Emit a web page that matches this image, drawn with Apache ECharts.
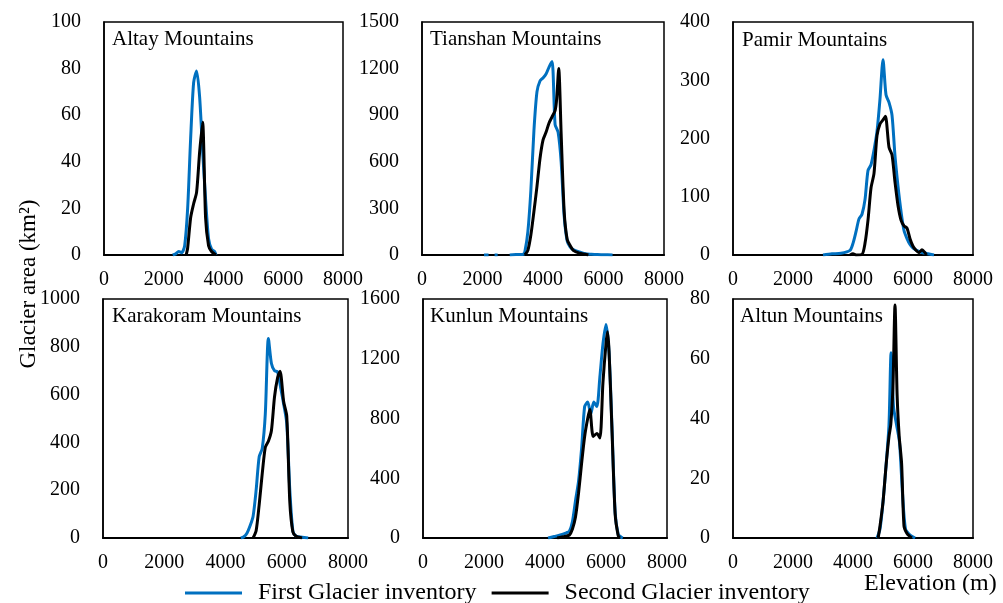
<!DOCTYPE html>
<html><head><meta charset="utf-8">
<script src="https://cdn.jsdelivr.net/npm/echarts@6/dist/echarts.min.js"></script>
<style>html,body{margin:0;padding:0;background:#fff}#c{width:1003px;height:603px}</style>
</head><body><div id="c"></div>
<script>
// ---- data: [elevation (m), glacier area (km²)] ----
const panelNames = ['Altay Mountains','Tianshan Mountains','Pamir Mountains','Karakoram Mountains','Kunlun Mountains','Altun Mountains'];
const seriesNames = ['First Glacier inventory','Second Glacier inventory'];
const xTicks = [0,2000,4000,6000,8000];
const yMax = [100,1500,400,1000,1600,80];
const yStep = [20,300,100,200,400,20];

const altayFirst = [[2300,0],[2400,0.5],[2500,1.5],[2600,1],[2700,4],[2800,20],[2900,50],[3000,74],[3100,79],[3200,68],[3300,45],[3400,24],[3500,7],[3600,2.5],[3700,1.5],[3750,0]];
const altaySecond = [[2750,0],[2800,3],[2900,16],[3000,22],[3100,27],[3200,44],[3300,57],[3400,16],[3500,4],[3600,1.5],[3700,0.5],[3750,0]];

const tianshanFirst = [[2050,0],[2200,0],[2300,'-'],[2400,0],[2500,0],[2700,'-'],[2900,0],[3000,2],[3200,3],[3350,5],[3400,20],[3500,150],[3600,420],[3700,800],[3800,1050],[3900,1120],[4000,1140],[4100,1165],[4200,1210],[4300,1245],[4400,840],[4500,790],[4600,600],[4700,250],[4800,90],[4900,50],[5000,35],[5200,20],[5400,8],[5600,5],[5800,3],[6000,2],[6300,0]];
const tianshanSecond = [[3400,0],[3500,30],[3600,130],[3700,280],[3800,440],[3900,620],[4000,740],[4100,790],[4200,850],[4300,890],[4400,930],[4450,1000],[4520,1200],[4600,780],[4700,280],[4800,100],[4900,60],[5000,30],[5200,12],[5400,5],[5500,0]];

const pamirFirst = [[3000,0],[3300,2],[3600,3],[3900,8],[4000,20],[4100,40],[4200,62],[4300,70],[4400,95],[4500,145],[4600,155],[4700,180],[4800,212],[4900,268],[5000,335],[5100,275],[5200,262],[5300,240],[5400,170],[5500,118],[5600,75],[5700,42],[5800,28],[5900,18],[6000,12],[6200,6],[6500,2],[6700,0]];
const pamirSecond = [[3900,0],[4000,2],[4100,0],[4300,1],[4400,20],[4500,60],[4600,115],[4700,140],[4800,205],[4900,225],[5000,232],[5080,238],[5200,185],[5300,172],[5400,125],[5500,85],[5600,60],[5700,50],[5800,46],[5900,28],[6000,15],[6100,8],[6200,4],[6300,9],[6400,4],[6450,0]];

const karakoramFirst = [[4500,0],[4600,5],[4700,20],[4800,50],[4900,90],[5000,200],[5100,340],[5200,375],[5300,520],[5400,835],[5500,730],[5600,700],[5700,695],[5800,630],[5900,560],[6000,480],[6100,200],[6200,30],[6300,8],[6500,3],[6700,0]];
const karakoramSecond = [[4900,0],[5000,30],[5100,140],[5200,270],[5300,380],[5400,405],[5500,450],[5600,590],[5700,670],[5780,698],[5900,570],[6000,510],[6100,150],[6200,25],[6300,8],[6400,3],[6500,0]];

const kunlunFirst = [[4100,0],[4300,10],[4500,20],[4700,35],[4800,45],[4900,110],[5000,250],[5100,380],[5200,600],[5300,880],[5400,910],[5500,830],[5600,910],[5700,880],[5800,1080],[5900,1300],[6000,1430],[6100,1240],[6200,720],[6300,170],[6400,25],[6500,5],[6550,0]];
const kunlunSecond = [[4400,0],[4600,8],[4800,20],[4900,60],[5000,140],[5100,300],[5200,500],[5300,680],[5400,800],[5470,860],[5580,680],[5700,700],[5800,670],[5900,1040],[6000,1300],[6050,1380],[6100,1250],[6200,700],[6300,160],[6400,15],[6450,0]];

const altunFirst = [[4800,0],[4900,3],[5000,12],[5100,24],[5200,38],[5270,62],[5350,44],[5450,38],[5550,32],[5650,15],[5750,3],[5900,1],[6070,0]];
const altunSecond = [[4840,0],[4900,4],[5000,12],[5100,24],[5200,34],[5260,38],[5330,50],[5400,78],[5470,48],[5540,34],[5620,25],[5700,4],[5800,1.5],[5900,0.5],[5960,0]];

const firstData = [altayFirst, tianshanFirst, pamirFirst, karakoramFirst, kunlunFirst, altunFirst];
const secondData = [altaySecond, tianshanSecond, pamirSecond, karakoramSecond, kunlunSecond, altunSecond];

// ---- layout ----
const FONT = '"Liberation Serif", "Times New Roman", serif';
const grids = [
  {left:104, top:22, width:239, height:233},
  {left:422, top:22, width:242, height:233},
  {left:733, top:22, width:240, height:233},
  {left:103, top:299, width:245, height:239},
  {left:423, top:299, width:244, height:239},
  {left:733, top:299, width:240, height:239}
];
const titlePos = [[112,29],[430,29],[742,30],[112,306],[430,306],[740,306]];
const colors = ['#0070C0', '#000000'];
const plain = v => String(v);

const option = {
  animation: false,
  backgroundColor: '#fff',
  title: panelNames.map((n,i)=>({text:n, left:titlePos[i][0], top:titlePos[i][1], padding:0,
      textStyle:{fontFamily:FONT, fontSize:21, fontWeight:'normal', color:'#000'}}))
    .concat([{text:'Elevation (m)', left:864, top:572, padding:0,
      textStyle:{fontFamily:FONT, fontSize:24, fontWeight:'normal', color:'#000'}}]),
  legend: {
    data: seriesNames, left:185, top:581, icon:'rect', itemWidth:57, itemHeight:3, itemGap:15, padding:0,
    textStyle:{fontFamily:FONT, fontSize:24, color:'#000', padding:[0,0,0,11]}
  },
  graphic: [{
    type:'text', x:29, y:284, rotation:Math.PI/2,
    style:{text:'Glacier area (km²)', fontFamily:FONT, fontSize:23, fill:'#000', align:'center', verticalAlign:'middle'}
  }],
  grid: grids.map(g=>Object.assign({show:true, borderColor:'#000', borderWidth:1.5, backgroundColor:'transparent'}, g)),
  xAxis: grids.map((g,i)=>({
    type:'value', gridIndex:i, min:xTicks[0], max:xTicks[xTicks.length-1], interval:2000,
    axisLine:{show:true, onZero:false, lineStyle:{color:'#000', width:2}},
    axisTick:{show:false}, splitLine:{show:false},
    axisLabel:{fontFamily:FONT, fontSize:20, color:'#000', margin:15, formatter:plain}
  })),
  yAxis: grids.map((g,i)=>({
    type:'value', gridIndex:i, min:0, max:yMax[i], interval:yStep[i],
    axisLine:{show:true, lineStyle:{color:'#000', width:1.5}},
    axisTick:{show:false}, splitLine:{show:false},
    axisLabel:{fontFamily:FONT, fontSize:20, color:'#000', margin:23, formatter:plain}
  })),
  series: []
};
for (let i=0;i<6;i++){
  option.series.push({name:seriesNames[0], type:'line', xAxisIndex:i, yAxisIndex:i, data:firstData[i],
    showSymbol:false, smooth:0.25, lineStyle:{color:colors[0], width:3}, itemStyle:{color:colors[0]}, z:3});
}
for (let i=0;i<6;i++){
  option.series.push({name:seriesNames[1], type:'line', xAxisIndex:i, yAxisIndex:i, data:secondData[i],
    showSymbol:false, smooth:0.25, lineStyle:{color:colors[1], width:3}, itemStyle:{color:colors[1]}, z:4});
}
const chart = echarts.init(document.getElementById('c'), null, {renderer:'canvas'});
chart.setOption(option);
</script></body></html>
